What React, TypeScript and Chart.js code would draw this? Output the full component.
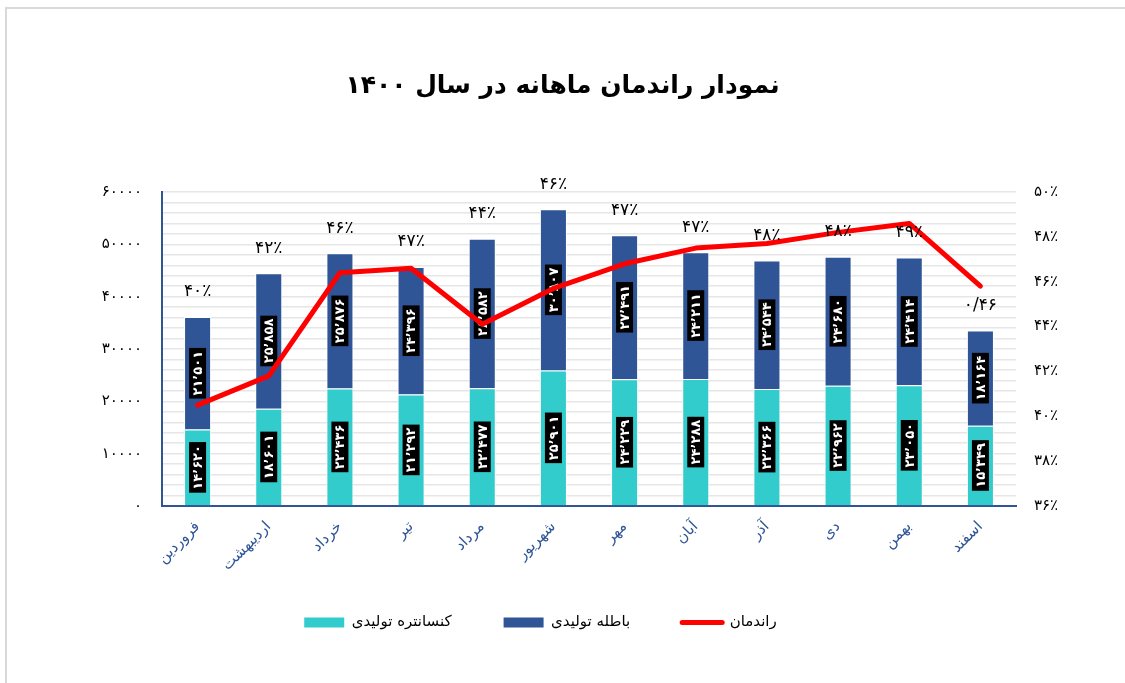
import React, { useEffect, useRef } from 'react';
import { Chart, registerables } from 'chart.js';

Chart.register(...registerables);

const FONT = '"DejaVu Sans", sans-serif';

const months = ['فروردین', 'اردیبهشت', 'خرداد', 'تیر', 'مرداد', 'شهریور', 'مهر', 'آبان', 'آذر', 'دی', 'بهمن', 'اسفند'];
const concentrate = [14620, 18601, 22436, 21292, 22477, 25901, 24229, 24288, 22366, 22962, 23050, 15349];
const tailings = [21501, 25858, 25876, 24396, 28582, 30807, 27491, 24211, 24544, 24680, 24414, 18164];
const yieldPct = [40.5, 41.8, 46.4, 46.6, 44.1, 45.7, 46.8, 47.5, 47.7, 48.2, 48.6, 45.8];
const yieldLabels = ['۴۰٪', '۴۲٪', '۴۶٪', '۴۷٪', '۴۴٪', '۴۶٪', '۴۷٪', '۴۷٪', '۴۸٪', '۴۸٪', '۴۹٪', '۰/۴۶'];
const seriesNames = ['کنسانتره تولیدی', 'باطله تولیدی', 'راندمان'];
const titleText = 'نمودار راندمان ماهانه در سال ۱۴۰۰';

const FA_DIGITS = '۰۱۲۳۴۵۶۷۸۹';
const toFa = (s: string) => s.replace(/[0-9]/g, (d) => FA_DIGITS[Number(d)]);
const fmtThousands = (v: number) => toFa(String(v).replace(/\B(?=(\d{3})+(?!\d))/g, '٬'));

const TEAL = '#33CCCC';
const BLUE = '#2F5597';

const framePlugin = {
  id: 'frame',
  beforeDraw(chart: any) {
    const ctx = chart.ctx;
    ctx.save();
    ctx.fillStyle = '#ffffff';
    ctx.fillRect(0, 0, chart.width, chart.height);
    ctx.strokeStyle = '#d9d9d9';
    ctx.lineWidth = 2;
    ctx.beginPath();
    ctx.moveTo(6, chart.height);
    ctx.lineTo(6, 8);
    ctx.lineTo(chart.width, 8);
    ctx.stroke();
    ctx.restore();
  },
};

// move the bottom legend up/left so it sits where the reference has it
const legendShiftPlugin = {
  id: 'legendShift',
  afterLayout(chart: any) {
    const lg = chart.legend;
    if (!lg) return;
    const dy = -43;
    const dx = -22;
    lg.top += dy;
    lg.bottom += dy;
    lg.left += dx;
    lg.right += dx;
  },
};

const labelPlugin = {
  id: 'barLabels',
  afterDatasetDraw(chart: any, args: any) {
    const di = args.index;
    if (di !== 0 && di !== 1) return;
    const ctx = chart.ctx;
    const meta = chart.getDatasetMeta(di);
    const values = chart.data.datasets[di].data as number[];
    ctx.save();
    ctx.font = 'bold 13px ' + FONT;
    meta.data.forEach((bar: any, i: number) => {
      const { x, y, base } = bar.getProps(['x', 'y', 'base'], true);
      const cy = (y + base) / 2;
      const text = fmtThousands(values[i]);
      const w = ctx.measureText(text).width + 6;
      const h = 17;
      ctx.save();
      ctx.translate(x, cy);
      ctx.rotate(-Math.PI / 2);
      ctx.fillStyle = '#000';
      ctx.fillRect(-w / 2, -h / 2, w, h);
      ctx.fillStyle = '#fff';
      ctx.textAlign = 'center';
      ctx.textBaseline = 'middle';
      ctx.fillText(text, 0, 1);
      ctx.restore();
    });
    ctx.restore();
  },
  afterDatasetsDraw(chart: any) {
    const ctx = chart.ctx;
    const meta = chart.getDatasetMeta(1);
    ctx.save();
    ctx.font = '17px ' + FONT;
    ctx.fillStyle = '#000';
    ctx.textAlign = 'center';
    ctx.textBaseline = 'middle';
    meta.data.forEach((bar: any, i: number) => {
      const { x, y } = bar.getProps(['x', 'y'], true);
      ctx.fillText(yieldLabels[i], x, y - 25);
    });
    ctx.restore();
  },
};

export default function App() {
  const ref = useRef<HTMLCanvasElement | null>(null);

  useEffect(() => {
    if (!ref.current) return;
    const chart = new Chart(ref.current, {
      type: 'bar',
      data: {
        labels: months,
        datasets: [
          {
            type: 'bar',
            label: seriesNames[0],
            data: concentrate,
            backgroundColor: TEAL,
            borderColor: '#ffffff',
            borderWidth: 1,
            yAxisID: 'y',
            order: 1,
            barPercentage: 0.38,
            categoryPercentage: 1,
          } as any,
          {
            type: 'bar',
            label: seriesNames[1],
            data: tailings,
            backgroundColor: BLUE,
            borderColor: '#ffffff',
            borderWidth: 1,
            yAxisID: 'y',
            order: 1,
            barPercentage: 0.38,
            categoryPercentage: 1,
          } as any,
          {
            type: 'line',
            label: seriesNames[2],
            data: yieldPct,
            borderColor: '#FF0000',
            backgroundColor: '#FF0000',
            borderWidth: 5,
            borderCapStyle: 'round',
            borderJoinStyle: 'round',
            pointRadius: 0,
            tension: 0,
            yAxisID: 'y1',
            order: 0,
          } as any,
        ],
      },
      options: {
        responsive: false,
        maintainAspectRatio: false,
        animation: false,
        layout: { padding: { left: 0, right: 0, top: 0, bottom: 0 } },
        plugins: {
          title: {
            display: true,
            text: titleText,
            color: '#000',
            font: { family: FONT, size: 25, weight: 'bold' },
            padding: { top: 71, bottom: 91 },
          },
          legend: {
            position: 'bottom',
            labels: {
              usePointStyle: true,
              pointStyleWidth: 40,
              boxHeight: 10,
              padding: 52,
              color: '#000',
              font: { family: FONT, size: 15 },
              sort: (a: any, b: any) => a.datasetIndex - b.datasetIndex,
              generateLabels: (chart: any) => {
                const items = (Chart.defaults.plugins.legend.labels as any).generateLabels(chart);
                return items.map((it: any) => {
                  if (it.datasetIndex === 2) {
                    return { ...it, pointStyle: 'line', lineWidth: 5, strokeStyle: '#FF0000', lineCap: 'round' };
                  }
                  return { ...it, pointStyle: 'rect', lineWidth: 0 };
                });
              },
            },
          },
          tooltip: { enabled: false },
        },
        scales: {
          x: {
            stacked: true,
            grid: { display: false },
            border: { display: true, color: BLUE, width: 2 },
            ticks: {
              color: BLUE,
              font: { family: FONT, size: 15 },
              minRotation: 45,
              maxRotation: 45,
              padding: 4,
              autoSkip: false,
            },
            afterFit: (s: any) => {
              s.height = 100;
            },
          },
          y: {
            stacked: true,
            position: 'left',
            min: 0,
            max: 60000,
            ticks: {
              stepSize: 2000,
              autoSkip: false,
              color: '#000',
              font: { family: FONT, size: 15 },
              padding: 20,
              callback: (v: any) => (Number(v) % 10000 === 0 ? toFa(String(v)) : ''),
            },
            grid: { color: '#e6e6e6', lineWidth: 1.5, drawTicks: false },
            border: { display: true, color: BLUE, width: 2 },
            afterFit: (s: any) => {
              s.width = 162;
            },
          },
          y1: {
            position: 'right',
            min: 36,
            max: 50,
            ticks: {
              stepSize: 2,
              color: '#000',
              font: { family: FONT, size: 15 },
              padding: 18,
              callback: (v: any) => toFa(String(Math.round(Number(v)))) + '٪',
            },
            grid: { display: false, drawTicks: false },
            border: { display: false },
            afterFit: (s: any) => {
              s.width = 109;
            },
          },
        },
      },
      plugins: [framePlugin, legendShiftPlugin, labelPlugin],
    } as any);
    return () => chart.destroy();
  }, []);

  return (
    <div style={{ position: 'fixed', left: 0, top: 0, width: 1125, height: 683, background: '#fff' }}>
      <canvas ref={ref} width={1125} height={683} style={{ display: 'block' }} />
    </div>
  );
}
